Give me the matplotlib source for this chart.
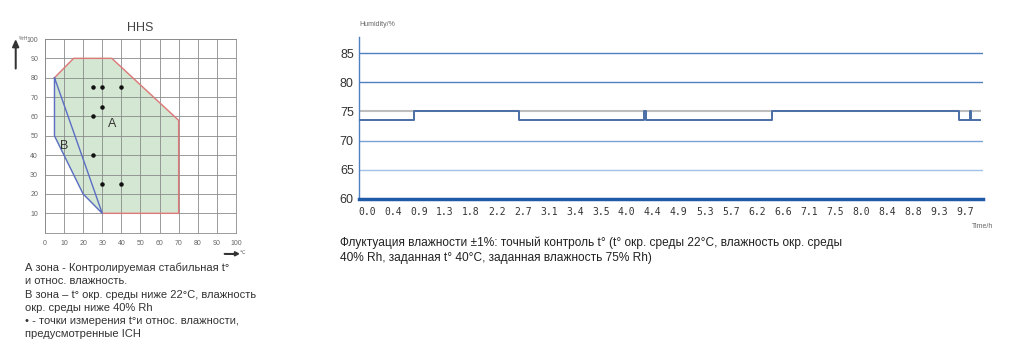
import numpy as np
import matplotlib
matplotlib.use("Agg")
from matplotlib import pyplot as plt

plt.rcParams['font.family'] = ['Liberation Sans', 'DejaVu Sans']

# left chart: HHS working zone (temperature degC, humidity %rH)
zone_all_t = [5, 15, 35, 70, 70, 30, 20, 5]
zone_all_h = [80, 90, 90, 58, 10, 10, 20, 50]
zone_a_edge_t = [5, 15, 35, 70, 70, 30]
zone_a_edge_h = [80, 90, 90, 58, 10, 10]
zone_b_edge_t = [5, 5, 20, 30, 5]
zone_b_edge_h = [80, 50, 20, 10, 80]
ich_t = [25, 30, 40, 30, 25, 25, 30, 40]
ich_h = [75, 75, 75, 65, 60, 40, 25, 25]
grid_ticks = list(range(0, 101, 10))

# right chart: humidity over time (x in tick index units)
time_labels = ['0.0', '0.4', '0.9', '1.3', '1.8', '2.2', '2.7', '3.1', '3.4', '3.5', '4.0', '4.4',
               '4.9', '5.3', '5.7', '6.2', '6.6', '7.1', '7.5', '8.0', '8.4', '8.8', '9.3', '9.7']
step_x = [-0.28, 1.82, 5.86, 10.66, 10.74, 15.6, 22.78, 23.2, 23.24, 23.6]
step_y = [73.5, 75.0, 73.5, 75.0, 73.5, 75.0, 73.5, 75.0, 73.5, 73.5]
hum_ticks = [60, 65, 70, 75, 80, 85]
setpoint = 75

fig = plt.figure(figsize=(10.24, 3.53), dpi=100)

# ---- left chart
ax = fig.add_axes([0.0439, 0.3408, 0.1865, 0.5487])
ax.set_xlim(0, 100)
ax.set_ylim(0, 100)
ax.fill(zone_all_t, zone_all_h, color='#d3e7d3', zorder=1)
ax.plot(zone_a_edge_t, zone_a_edge_h, color='#e0787a', lw=1.0, zorder=3)
ax.plot(zone_b_edge_t, zone_b_edge_h, color='#5b6ec4', lw=1.0, zorder=3)
ax.scatter(ich_t, ich_h, s=5, color='#111111', zorder=4)
ax.text(35, 56, 'A', fontsize=9, color='#333333', ha='center', va='center', zorder=4)
ax.text(10, 45, 'B', fontsize=9, color='#333333', ha='center', va='center', zorder=4)
ax.set_xticks(grid_ticks)
ax.set_yticks(grid_ticks[1:])
ax.grid(True, color='#8a8a8a', lw=0.6, zorder=2)
ax.set_axisbelow(False)
for s in ax.spines.values():
    s.set_color('#8a8a8a')
    s.set_linewidth(0.6)
ax.tick_params(length=0, labelsize=5, labelcolor='#666666', pad=5)
ax.set_title('HHS', fontsize=9, color='#444444', pad=6)
fig.text(0.018, 0.89, '%rH', fontsize=3.5, color='#666666', va='center')
fig.add_artist(matplotlib.patches.FancyArrow(0.0153, 0.805, 0, 0.06, width=0.0005, head_width=0.006,
                                              head_length=0.02, color='#333333', transform=fig.transFigure))
fig.add_artist(matplotlib.patches.FancyArrow(0.219, 0.281, 0.01, 0, width=0.001, head_width=0.012,
                                              head_length=0.004, color='#333333', transform=fig.transFigure))
fig.text(0.2335, 0.284, '\u2103', fontsize=3.5, color='#666666', va='center')

legend_lines = ['А зона - Контролируемая стабильная t°',
                'и относ. влажность.',
                'В зона – t° окр. среды ниже 22°C, влажность',
                'окр. среды ниже 40% Rh',
                '• - точки измерения t°и относ. влажности,',
                'предусмотренные ICH']
fig.text(0.0245, 0.255, '\n'.join(legend_lines), fontsize=8, color='#333333', va='top',
         linespacing=1.38)

# ---- right chart
bx = fig.add_axes([0.3509, 0.4363, 0.6088, 0.4597])
bx.set_xlim(-0.285, 23.69)
bx.set_ylim(60, 87.8)
line_colors = {65: '#a3c1e6', 70: '#7aa2d6', 80: '#4f81c0', 85: '#4f81c0'}
for v, c in line_colors.items():
    bx.axhline(v, color=c, lw=1.0, zorder=1)
bx.axhline(setpoint, color='#bdbdbd', lw=1.5, xmax=0.996, zorder=2)
bx.axhline(60, color='#1f5aa8', lw=2.5, clip_on=False, zorder=3)
bx.step(step_x, step_y, where='post', color='#4a6ea6', lw=1.4, zorder=4)
for s in ['top', 'right', 'bottom']:
    bx.spines[s].set_visible(False)
bx.spines['left'].set_color('#4f81c0')
bx.spines['left'].set_linewidth(1.0)
bx.set_yticks(hum_ticks)
bx.set_xticks(range(len(time_labels)))
bx.set_xticklabels(time_labels, family='DejaVu Sans Mono', fontsize=7, color='#333333')
bx.tick_params(axis='y', length=0, labelsize=9, labelcolor='#333333', pad=4)
bx.tick_params(axis='x', length=0, pad=6)
fig.text(0.3509, 0.932, 'Humidity/%', fontsize=5, color='#666666', va='center')
fig.text(0.949, 0.357, 'Time/h', fontsize=5, color='#666666', va='center')

caption = ('Флуктуация влажности ±1%: точный контроль t° (t° окр. среды 22°C, влажность окр. среды\n'
           '40% Rh, заданная t° 40°C, заданная влажность 75% Rh)')
fig.text(0.332, 0.33, caption, fontsize=8.6, color='#222222', va='top', linespacing=1.3)

fig.savefig('out.png', dpi=100, facecolor='white')
